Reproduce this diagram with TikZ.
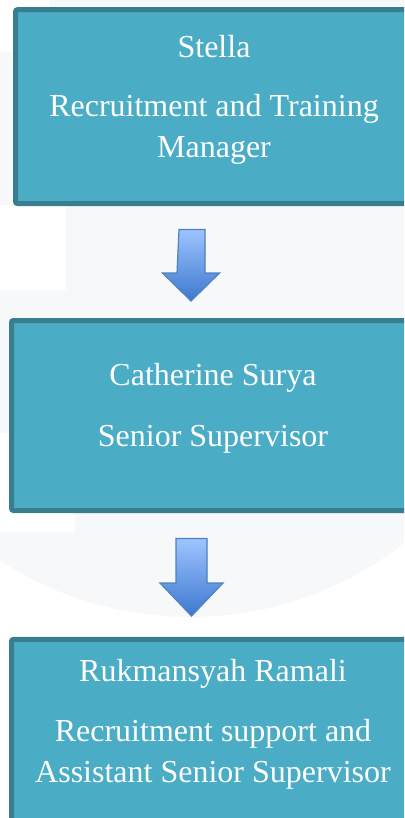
\documentclass[tikz,border=0pt]{standalone}
\usepackage{fontspec}
\setmainfont{Liberation Serif}
\begin{document}
\tikzset{every picture/.style={line width=0.75pt}}

\begin{tikzpicture}[x=0.75pt,y=0.75pt,yscale=-1,xscale=1,
    box/.style={draw={rgb, 255:red, 56; green, 126; blue, 143}, fill={rgb, 255:red, 75; green, 172; blue, 198}, line width=3.75pt, rounded corners=1.5pt, inner sep=0pt},
    lbl/.style={anchor=base, inner sep=0pt, text=white, font=\fontsize{24}{30}\selectfont},
    barrow/.style={draw={rgb, 255:red, 79; green, 129; blue, 189}, line width=0.9pt, line join=miter, top color={rgb, 255:red, 158; green, 196; blue, 255}, bottom color={rgb, 255:red, 61; green, 120; blue, 206}},
    bshadow/.style={fill={rgb, 255:red, 90; green, 90; blue, 90}, fill opacity=0.22}]
    \useasboundingbox (0,0) rectangle (404,818);
    \clip (0,0) rectangle (404,818);

    %Shape: Background
    \fill [white] (0,0) rectangle (404,818);
    \fill [color={rgb, 255:red, 247; green, 248; blue, 250 }] (190,271) circle [radius=346];
    \fill [white] (0,0) rectangle (50,52);
    \fill [white] (0,205) rectangle (66,290);
    \fill [white] (0,433) rectangle (75,532);

    %Shape: Rectangle [box 1]
    \node [box, minimum width=297.75pt, minimum height=145.35pt] (stella) at (214,106.6) {};
    %Shape: Rectangle [box 2]
    \node [box, minimum width=302.25pt, minimum height=142.5pt] (catherine) at (213,415.5) {};
    %Shape: Rectangle [box 3]
    \node [box, minimum width=302.25pt, minimum height=150.4pt] (rukman) at (213,739.75) {};

    %Shape: Down Arrow [arrow 1]
    \coordinate (arr1) at (192,229.5);
    \fill [bshadow, shift={(1,3)}] (arr1) ++(-13,0) -- ++(26,0) -- ++(0,43.5) -- ++(14.5,0) -- ++(-28.5,28) -- ++(-28.5,-28) -- ++(14.5,0) -- cycle;
    \shade [barrow] (arr1) ++(-13,0) -- ++(26,0) -- ++(0,43.5) -- ++(14.5,0) -- ++(-28.5,28) -- ++(-28.5,-28) -- ++(14.5,0) -- cycle;
    %Shape: Down Arrow [arrow 2]
    \coordinate (arr2) at (191.5,538.5);
    \fill [bshadow, shift={(1,3)}] (arr2) ++(-15.5,0) -- ++(31,0) -- ++(0,44.5) -- ++(16,0) -- ++(-31.5,33) -- ++(-31.5,-33) -- ++(16,0) -- cycle;
    \shade [barrow] (arr2) ++(-15.5,0) -- ++(31,0) -- ++(0,44.5) -- ++(16,0) -- ++(-31.5,33) -- ++(-31.5,-33) -- ++(16,0) -- cycle;

    % Text Node
    \node [lbl] (stellaname) at (214,57) {Stella};
    % Text Node
    \node [lbl] (stellarole) at (214,116.7) {Recruitment and Training};
    % Text Node
    \node [lbl] (stellarole2) at (214,157) {Manager};
    % Text Node
    \node [lbl] (catherinename) at (213,385) {Catherine Surya};
    % Text Node
    \node [lbl] (catherinerole) at (213,446) {Senior Supervisor};
    % Text Node
    \node [lbl] (rukmanname) at (213,681.7) {Rukmansyah Ramali};
    % Text Node
    \node [lbl] (rukmanrole) at (213,741.7) {Recruitment support and};
    % Text Node
    \node [lbl] (rukmanrole2) at (213,782.3) {Assistant Senior Supervisor};

\end{tikzpicture}
\end{document}
